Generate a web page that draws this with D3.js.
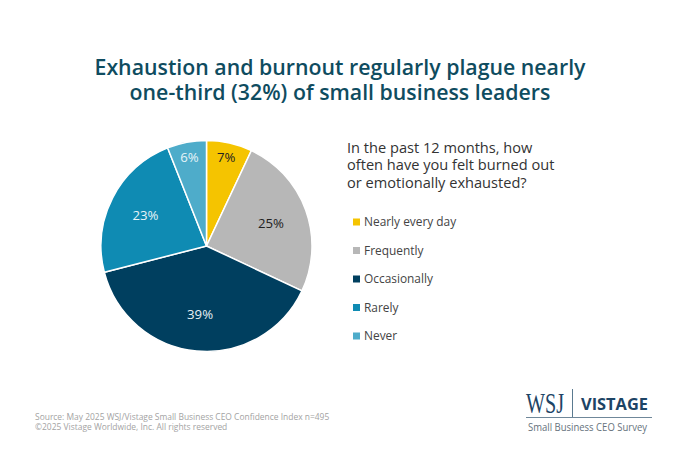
<!DOCTYPE html>
<html>
<head>
<meta charset="utf-8">
<script src="https://cdn.jsdelivr.net/npm/d3@7"></script>
<style>
  html, body { margin: 0; padding: 0; background: #fff; }
  text { font-family: "Open Sans", sans-serif; }
</style>
</head>
<body>
<div id="chart"></div>
<script>
const categories = ["Nearly every day", "Frequently", "Occasionally", "Rarely", "Never"];
const values = [7, 25, 39, 23, 6];
const colors = ["#f5c400", "#b7b7b7", "#003f5f", "#0f8bb3", "#4eacca"];
const labelColors = ["#222222", "#222222", "#e6f0f4", "#e6f4f8", "#e6f4f8"];
const titleLines = ["Exhaustion and burnout regularly plague nearly", "one-third (32%) of small business leaders"];
const questionLines = ["In the past 12 months, how", "often have you felt burned out", "or emotionally exhausted?"];
const sourceLines = ["Source: May 2025 WSJ/Vistage Small Business CEO Confidence Index n=495", "©2025 Vistage Worldwide, Inc. All rights reserved"];

const width = 680, height = 456;
const cx = 206.5, cy = 246, radius = 105.5;

const svg = d3.select("#chart").append("svg")
    .attr("width", width)
    .attr("height", height)
    .style("display", "block");

// title
svg.append("g").selectAll("text").data(titleLines).enter().append("text")
    .attr("x", 340)
    .attr("y", (d, i) => 74.5 + i * 25.5)
    .attr("text-anchor", "middle")
    .style("font-size", "21.3px")
    .style("font-weight", 600)
    .style("fill", "#0f4c5f")
    .text(d => d);

// pie
const pie = d3.pie().sort(null)(values);
const arc = d3.arc().innerRadius(0).outerRadius(radius);
// thin slices get their label pushed out toward the rim
const labelArc = d3.arc()
    .innerRadius(d => d.value < 10 ? radius * 0.86 : radius * 0.65)
    .outerRadius(d => d.value < 10 ? radius * 0.86 : radius * 0.65);

const pieG = svg.append("g").attr("transform", "translate(" + cx + "," + cy + ")");

pieG.selectAll("path").data(pie).enter().append("path")
    .attr("d", arc)
    .style("fill", (d, i) => colors[i])
    .style("stroke", "#fff")
    .style("stroke-width", 1.5);

pieG.selectAll("text").data(pie).enter().append("text")
    .attr("transform", d => "translate(" + labelArc.centroid(d) + ")")
    .attr("text-anchor", "middle")
    .attr("dy", "0.36em")
    .style("font-size", "13.2px")
    .style("fill", (d, i) => labelColors[i])
    .text(d => d.value + "%");

// question
svg.append("g").selectAll("text").data(questionLines).enter().append("text")
    .attr("x", 347)
    .attr("y", (d, i) => 152.5 + i * 17.5)
    .style("font-size", "14.6px")
    .style("fill", "#333")
    .text(d => d);

// legend
const legendY = d3.scalePoint().domain(categories).range([222, 336]);
const legend = svg.append("g").selectAll("g").data(categories).enter().append("g")
    .attr("transform", d => "translate(353," + legendY(d) + ")");

legend.append("rect")
    .attr("x", 0).attr("y", -3.5)
    .attr("width", 7).attr("height", 7)
    .style("fill", (d, i) => colors[i]);

legend.append("text")
    .attr("x", 11)
    .attr("dy", "0.35em")
    .style("font-size", "11.9px")
    .style("fill", "#444")
    .text(d => d);

// source
svg.append("g").selectAll("text").data(sourceLines).enter().append("text")
    .attr("x", 35)
    .attr("y", (d, i) => 419.5 + i * 10)
    .style("font-size", "8.45px")
    .style("fill", "#a3a3a3")
    .text(d => d);

// logo
const logo = svg.append("g");
logo.append("text")
    .attr("x", 526).attr("y", 413)
    .style("font-family", "'Liberation Serif', serif")
    .style("font-size", "30px")
    .style("fill", "#1d4465")
    .attr("textLength", 38)
    .attr("lengthAdjust", "spacingAndGlyphs")
    .text("WSJ");
logo.append("line")
    .attr("x1", 572.5).attr("x2", 572.5).attr("y1", 389).attr("y2", 417)
    .style("stroke", "#5a7a90").style("stroke-width", 1);
logo.append("text")
    .attr("x", 581).attr("y", 410)
    .style("font-size", "15.5px")
    .style("font-weight", 700)
    .style("fill", "#1d4465")
    .attr("textLength", 67)
    .attr("lengthAdjust", "spacingAndGlyphs")
    .text("VISTAGE");
logo.append("line")
    .attr("x1", 526).attr("x2", 652).attr("y1", 417.5).attr("y2", 417.5)
    .style("stroke", "#6f8799").style("stroke-width", 1);
logo.append("text")
    .attr("x", 528).attr("y", 431)
    .style("font-size", "10.5px")
    .style("fill", "#66727c")
    .attr("textLength", 119)
    .attr("lengthAdjust", "spacingAndGlyphs")
    .text("Small Business CEO Survey");
</script>
</body>
</html>
